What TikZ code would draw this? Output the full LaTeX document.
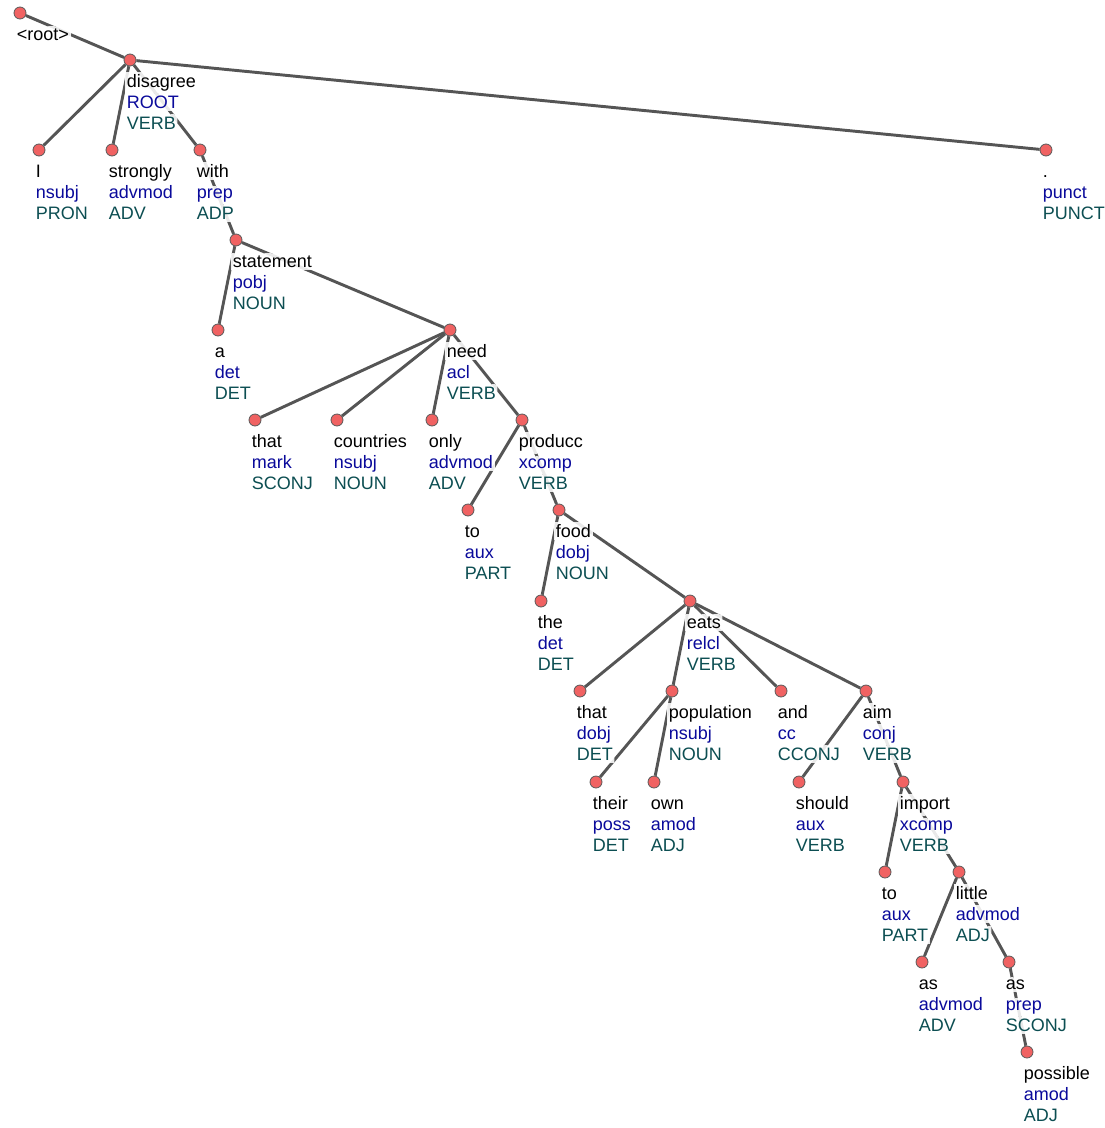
\documentclass[tikz,border=0pt]{standalone}
\usepackage{fontspec}
\setmainfont{Liberation Sans}
\definecolor{dotred}{RGB}{240,98,98}
\definecolor{edgegray}{RGB}{85,85,85}
\definecolor{depblue}{RGB}{10,10,155}
\definecolor{posteal}{RGB}{12,78,82}

\begin{document}
\begin{tikzpicture}[x=0.75pt,y=-0.75pt]
% arcs: head/dependent
\def\arclist{root/disagree, disagree/i, disagree/strongly, disagree/with,
  disagree/punct, with/statement, statement/a, statement/need, need/that,
  need/countries, need/only, need/producc, producc/to, producc/food, food/the,
  food/eats, eats/thatb, eats/population, eats/and, eats/aim, population/their,
  population/own, aim/should, aim/import, import/tob, import/little, little/as,
  little/asb, asb/possible}
\tikzset{dot/.style={circle, fill=dotred, draw=gray!70!black, line width=0.6pt, minimum size=9pt, inner sep=0pt},
  edge/.style={draw=edgegray, line width=2.2pt},
  faint/.style={edge, draw=edgegray!13},
  lbl/.style={anchor=base west, inner xsep=1.2pt, inner ysep=1.6pt, fill=white,
    path picture={\foreach \a/\b in \arclist \draw[faint] (\a) -- (\b);},
    font=\fontsize{13.5}{16}\selectfont}}
\useasboundingbox (0,0) rectangle (1104,1128);

% tokens: name/x/y/word/dep/pos
\def\toklist{
  disagree/130/60/disagree/ROOT/VERB,
  i/39/150/I/nsubj/PRON,
  strongly/112/150/strongly/advmod/ADV,
  with/200/150/with/prep/ADP,
  punct/1046/150/./punct/PUNCT,
  statement/236/240/statement/pobj/NOUN,
  a/218/330/a/det/DET,
  need/450/330/need/acl/VERB,
  that/255/420/that/mark/SCONJ,
  countries/337/420/countries/nsubj/NOUN,
  only/432/420/only/advmod/ADV,
  producc/522/420/producc/xcomp/VERB,
  to/468/510/to/aux/PART,
  food/559/510/food/dobj/NOUN,
  the/541/601/the/det/DET,
  eats/690/601/eats/relcl/VERB,
  thatb/580/691/that/dobj/DET,
  population/672/691/population/nsubj/NOUN,
  and/781/691/and/cc/CCONJ,
  aim/866/691/aim/conj/VERB,
  their/596/782/their/poss/DET,
  own/654/782/own/amod/ADJ,
  should/799/782/should/aux/VERB,
  import/903/782/import/xcomp/VERB,
  tob/885/872/to/aux/PART,
  little/959/872/little/advmod/ADJ,
  as/922/962/as/advmod/ADV,
  asb/1009/962/as/prep/SCONJ,
  possible/1027/1052/possible/amod/ADJ}

% dots
\node[dot] (root) at (20,13) {};
\foreach \n/\x/\y/\w/\d/\p in \toklist
  \node[dot] (\n) at (\x,\y) {};

% arcs
\foreach \a/\b in \arclist
  \draw[edge] (\a) -- (\b);

% labels
\node[lbl] (root-w) at ([shift={(-5,27.5)}]root.center) {<root>};
\foreach \n/\x/\y/\w/\d/\p in \toklist{
  \node[lbl] (\n-w) at ([shift={(-5,27.5)}]\n.center) {\w};
  \node[lbl, text=depblue] (\n-d) at ([shift={(-5,48.5)}]\n.center) {\d};
  \node[lbl, text=posteal] (\n-p) at ([shift={(-5,69.5)}]\n.center) {\p};
}
\end{tikzpicture}
\end{document}
